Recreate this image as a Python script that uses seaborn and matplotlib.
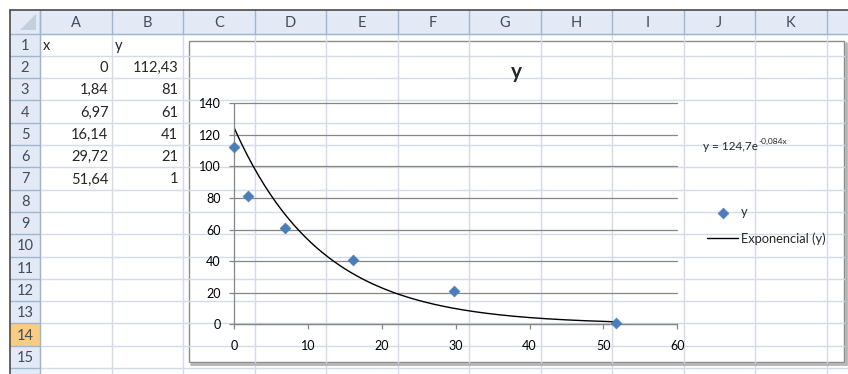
import numpy as np
import matplotlib
matplotlib.use('Agg')
import matplotlib.pyplot as plt
from matplotlib.patches import Rectangle, Polygon
import seaborn as sns

# Datos de la hoja
x_vals = [0, 1.84, 6.97, 16.14, 29.72, 51.64]
y_vals = [112.43, 81, 61, 41, 21, 1]
col_letters = ['A', 'B', 'C', 'D', 'E', 'F', 'G', 'H', 'I', 'J', 'K']
row_numbers = list(range(1, 16))
header_x = 'x'
header_y = 'y'
serie_label = 'y'
trend_label = 'Exponencial (y)'
chart_title = 'y'
x_ticks = [0, 10, 20, 30, 40, 50, 60]
y_ticks = [0, 20, 40, 60, 80, 100, 120, 140]

sns.set_theme(style='white')
plt.rcParams['font.family'] = ['Lato', 'DejaVu Sans']

W, H = 848, 374
fig = plt.figure(figsize=(W / 100, H / 100), dpi=100)

# ---- fondo: la hoja de calculo (coordenadas en pixeles) ----
bg = fig.add_axes([0, 0, 1, 1])
bg.set_xlim(0, W)
bg.set_ylim(H, 0)
bg.axis('off')

col0, col_w = 40.0, 71.5
row0, row_h = 33.5, 22.3
grid_c = '#d4dbe7'
head_line = '#9eb6ce'
head_txt = '#3e4c5c'

# lineas de celdas
for i in range(len(col_letters) + 2):
    xx = col0 + i * col_w
    bg.plot([xx, xx], [row0, H], color=grid_c, lw=1)
for j in range(len(row_numbers) + 2):
    yy = row0 + j * row_h
    bg.plot([col0, W], [yy, yy], color=grid_c, lw=1)

# encabezados
bg.add_patch(Rectangle((10, 10), W - 10, row0 - 10, fc='#e3eaf5', ec='none'))
bg.add_patch(Rectangle((10, row0), col0 - 10, H - row0, fc='#e3eaf5', ec='none'))
bg.add_patch(Rectangle((10, row0 + 13 * row_h), col0 - 10, row_h, fc='#f8cd82', ec='none'))
bg.add_patch(Polygon([[36, 14], [36, 30], [20, 30]], closed=True, fc='#c3cfdd', ec='none'))
for i in range(len(col_letters) + 2):
    xx = col0 + i * col_w
    bg.plot([xx, xx], [10, row0], color=head_line, lw=1)
    if i < len(col_letters):
        bg.text(xx + col_w / 2, (10 + row0) / 2 + 1, col_letters[i], ha='center', va='center',
                fontsize=10.5, color=head_txt)
bg.plot([10, W], [row0, row0], color=head_line, lw=1)
bg.plot([col0, col0], [10, H], color=head_line, lw=1)
for j, r in enumerate(row_numbers):
    yy = row0 + j * row_h
    bg.plot([10, col0], [yy + row_h, yy + row_h], color=head_line, lw=1)
    bg.text(25, yy + row_h / 2 + 1, str(r), ha='center', va='center', fontsize=10.5, color=head_txt)

# borde de la ventana
bg.plot([9.5, W], [10, 10], color='#4a4a4a', lw=1.2)
bg.plot([9.5, 9.5], [10, H], color='#4a4a4a', lw=1.2)

# contenido de celdas
def fmt(v):
    return f'{v:g}'.replace('.', ',')

bg.text(col0 + 3, row0 + row_h / 2 + 1, header_x, ha='left', va='center', fontsize=10.5)
bg.text(col0 + col_w + 3, row0 + row_h / 2 + 1, header_y, ha='left', va='center', fontsize=10.5)
for k, (xv, yv) in enumerate(zip(x_vals, y_vals)):
    yy = row0 + (k + 1) * row_h + row_h / 2 + 1
    bg.text(col0 + col_w - 3, yy, fmt(xv), ha='right', va='center', fontsize=10.5)
    bg.text(col0 + 2 * col_w - 5, yy, fmt(yv), ha='right', va='center', fontsize=10.5)

# marco del grafico
cx0, cy0, cx1, cy1 = 189, 40.5, 844, 362
bg.add_patch(Rectangle((cx0, cy0), cx1 - cx0, cy1 - cy0, fc='white', ec='#8c8c8c', lw=1))
bg.plot([cx1 + 1.5, cx1 + 1.5], [cy0 + 2, cy1 + 1.5], color='#b4b4b4', lw=2)
bg.plot([cx0 + 2, cx1 + 1.5], [cy1 + 1.5, cy1 + 1.5], color='#b4b4b4', lw=2)

# ---- grafico ----
px0, px1, py0, py1 = 234, 677.3, 324.3, 103.3
ax = fig.add_axes([px0 / W, 1 - py0 / H, (px1 - px0) / W, (py0 - py1) / H])
ax.set_facecolor('none')

# linea de tendencia exponencial
b, ln_a = np.polyfit(np.array(x_vals), np.log(np.array(y_vals)), 1)
a = np.exp(ln_a)
x_fit = np.linspace(0, max(x_vals), 200)
sns.lineplot(x=x_fit, y=a * np.exp(b * x_fit), color='black', lw=1, ax=ax, label=trend_label)
sns.scatterplot(x=x_vals, y=y_vals, marker='D', s=30, color='#4a7ebb', edgecolor='#4a7ebb',
                linewidth=0.5, ax=ax, label=serie_label, clip_on=False, zorder=5)

ax.set_xlim(0, 60)
ax.set_ylim(0, 140)
ax.set_xticks(x_ticks)
ax.set_yticks(y_ticks)
ax.yaxis.grid(True, color='#868686', lw=0.9)
for gl in ax.get_ygridlines():
    gl.set_clip_on(False)
for s in ['top', 'right']:
    ax.spines[s].set_visible(False)
for s in ['left', 'bottom']:
    ax.spines[s].set_color('#868686')
    ax.spines[s].set_linewidth(0.9)
ax.tick_params(axis='both', direction='out', length=3.6, width=0.9, color='#868686',
               labelsize=9, labelcolor='black')
ax.tick_params(axis='x', pad=8, bottom=True)
ax.tick_params(axis='y', pad=6, left=True)
ax.set_xlabel('')
ax.set_ylabel('')

handles, labels = ax.get_legend_handles_labels()
ax.get_legend().remove()
order = [labels.index(serie_label), labels.index(trend_label)]
fig.legend([handles[i] for i in order], [labels[i] for i in order], loc='upper left',
           bbox_to_anchor=(707 / W, 1 - 206 / H), frameon=False, fontsize=9.3,
           handlelength=2.4, handletextpad=0.2, labelspacing=1.1, borderpad=0, borderaxespad=0)

# titulo y ecuacion
fig.text((cx0 + cx1) / 2 / W, 1 - 72 / H, chart_title, ha='center', va='center',
         fontsize=15, fontweight='bold')
eq = fig.text(703 / W, 1 - 146 / H, f'y = {a:.1f}e'.replace('.', ','), ha='left', va='center',
              fontsize=8.5)
bg.annotate(f'{b:.3f}x'.replace('.', ','), xy=(1.0, 0.6), xycoords=eq, ha='left', va='bottom',
            fontsize=6)

fig.savefig('out.png', dpi=100)
